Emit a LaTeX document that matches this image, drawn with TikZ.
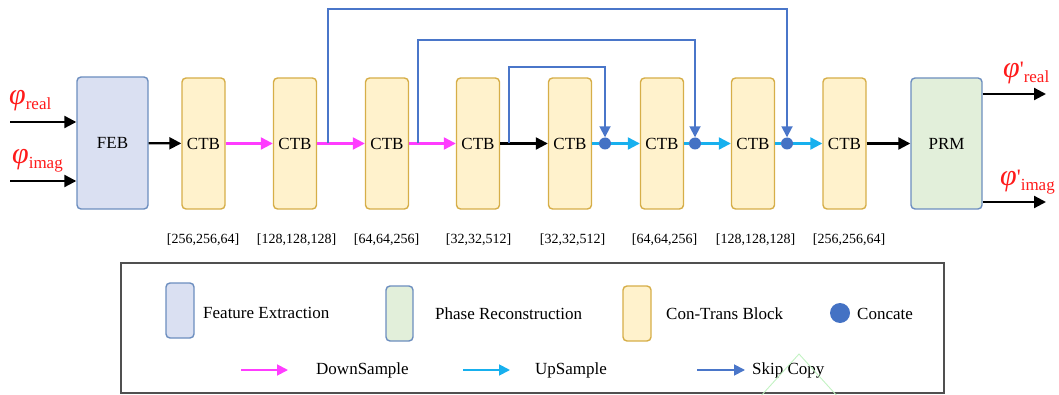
\documentclass[tikz,border=0pt]{standalone}
\usepackage{fontspec}
\setmainfont{Liberation Serif}
\usetikzlibrary{arrows.meta,calc}

\definecolor{febfill}{HTML}{DAE0F2}
\definecolor{prmfill}{HTML}{E2EFDA}
\definecolor{boxline}{HTML}{6C8EBF}
\definecolor{ctbfill}{HTML}{FFF2CC}
\definecolor{ctbline}{HTML}{D6AE48}
\definecolor{downc}{HTML}{FF3CFF}
\definecolor{upc}{HTML}{17B0EE}
\definecolor{skipc}{HTML}{4A76C9}
\definecolor{dotc}{HTML}{4472C4}
\definecolor{phic}{HTML}{FF1A1A}
\definecolor{framec}{HTML}{505050}
\definecolor{faintgreen}{HTML}{C2F2C2}

\tikzset{
  blk/.style={rounded corners=4pt, line width=1.4pt, inner sep=0pt,
    font=\fontsize{17}{20}\selectfont},
  febbox/.style={blk, draw=boxline, fill=febfill, minimum width=71pt, minimum height=132pt},
  prmbox/.style={blk, draw=boxline, fill=prmfill, minimum width=71pt, minimum height=131pt},
  ctbbox/.style={blk, draw=ctbline, fill=ctbfill, minimum width=43pt, minimum height=131pt},
  lgfe/.style={blk, draw=boxline, fill=febfill, minimum width=28pt, minimum height=55pt},
  lgpr/.style={blk, draw=boxline, fill=prmfill, minimum width=27pt, minimum height=55pt},
  lgctb/.style={blk, draw=ctbline, fill=ctbfill, minimum width=28pt, minimum height=55pt},
  dot/.style={circle, fill=dotc, minimum size=12pt, inner sep=0pt},
  bigdot/.style={circle, fill=dotc, minimum size=20pt, inner sep=0pt},
  dimlab/.style={font=\fontsize{14}{16}\selectfont, inner sep=0pt},
  lgtext/.style={font=\fontsize{17}{20}\selectfont, anchor=west, inner sep=0pt},
  phitext/.style={text=phic, inner sep=0pt},
  tip/.style={-{Triangle[length=12pt,width=12pt]}},
  smalltip/.style={-{Triangle[length=11pt,width=11pt]}},
  plain/.style={line width=2.2pt, black, tip},
  down/.style={line width=2.2pt, downc, tip},
  up/.style={line width=2.2pt, upc, tip},
  upline/.style={line width=2.2pt, upc},
  skip/.style={line width=1.8pt, skipc, smalltip},
}

\newcommand{\phisym}[2]{{\fontsize{30}{30}\selectfont\itshape φ}#1{\fontsize{17}{17}\selectfont\raisebox{-5pt}{#2}}}
\newcommand{\primemark}{{\fontsize{22}{22}\selectfont\raisebox{1pt}{\textquotesingle}}}

\begin{document}
\begin{tikzpicture}[x=1pt,y=-1pt]
\useasboundingbox (0,0) rectangle (1059,395);

% main blocks
\node[febbox] (feb) at (112.5,143) {FEB};
\node[ctbbox] (t1) at (203.5,143.5) {CTB};
\node[ctbbox] (t2) at (295,143.5) {CTB};
\node[ctbbox] (t3) at (387,143.5) {CTB};
\node[ctbbox] (t4) at (478,143.5) {CTB};
\node[ctbbox] (t5) at (570,143.5) {CTB};
\node[ctbbox] (t6) at (662,143.5) {CTB};
\node[ctbbox] (t7) at (753,143.5) {CTB};
\node[ctbbox] (t8) at (844.5,143.5) {CTB};
\node[prmbox] (prm) at (946.5,143.5) {PRM};

% concatenation points
\node[dot] (c1) at (605,143.5) {};
\node[dot] (c2) at (695,143.5) {};
\node[dot] (c3) at (787,143.5) {};

% feature sizes
\node[dimlab] (d1) at (203,240) {[256,256,64]};
\node[dimlab] (d2) at (296.5,240) {[128,128,128]};
\node[dimlab] (d3) at (386.5,240) {[64,64,256]};
\node[dimlab] (d4) at (478.5,240) {[32,32,512]};
\node[dimlab] (d5) at (572.5,240) {[32,32,512]};
\node[dimlab] (d6) at (664.5,240) {[64,64,256]};
\node[dimlab] (d7) at (755.5,240) {[128,128,128]};
\node[dimlab] (d8) at (849,240) {[256,256,64]};

% inputs
\coordinate (inr) at (10,122);
\coordinate (ini) at (10,181);
\draw[plain] (inr) -- (inr -| feb.west);
\draw[plain] (ini) -- (ini -| feb.west);
\node[phitext, anchor=base west] (lr) at (9,105) {\phisym{}{real}};
\node[phitext, anchor=base west] (li) at (12,164) {\phisym{}{imag}};

% outputs
\coordinate (outr) at (1046,94);
\coordinate (outi) at (1046,202);
\draw[plain] (outr -| prm.east) -- (outr);
\draw[plain] (outi -| prm.east) -- (outi);
\node[phitext, anchor=base west] (lor) at (1003,78) {\phisym{\primemark}{real}};
\node[phitext, anchor=base west] (loi) at (1000,186) {\phisym{\primemark}{imag}};

% encoder path
\draw[plain] (feb) -- (t1);
\draw[down] (t1) -- (t2);
\draw[down] (t2) -- (t3);
\draw[down] (t3) -- (t4);
\draw[plain] (t4) -- (t5);

% decoder path
\draw[upline] (t5) -- (c1);
\draw[up] (c1) -- (t6);
\draw[upline] (t6) -- (c2);
\draw[up] (c2) -- (t7);
\draw[upline] (t7) -- (c3);
\draw[up] (c3) -- (t8);
\draw[plain] (t8) -- (prm);

% skip connections
\coordinate (s1) at (328,143.5);
\coordinate (s2) at (418,143.5);
\coordinate (s3) at (509,143.5);
\draw[skip] (s1) -- (328,9) -| (c3);
\draw[skip] (s2) -- (418,40) -| (c2);
\draw[skip] (s3) -- (509,67) -| (c1);

% legend
\node[draw=framec, line width=1.5pt, minimum width=823pt, minimum height=130pt, inner sep=0pt] (legend) at (532.5,328) {};
\node[lgfe] (kfe) at (180,310.5) {};
\node[lgtext] (tfe) at (203,313) {Feature Extraction};
\node[lgpr] (kpr) at (399.5,313.5) {};
\node[lgtext] (tpr) at (435,314) {Phase Reconstruction};
\node[lgctb] (kctb) at (637,313.5) {};
\node[lgtext] (tctb) at (666,314) {Con-Trans Block};
\node[bigdot] (kdot) at (840,313) {};
\node[lgtext] (tdot) at (857,314) {Concate};

\coordinate (ad0) at (241,370); \coordinate (ad1) at (288,370);
\coordinate (au0) at (463,370); \coordinate (au1) at (510,370);
\coordinate (as0) at (697,370); \coordinate (as1) at (745,370);
\draw[line width=1.8pt, downc, smalltip] (ad0) -- (ad1);
\draw[line width=1.8pt, upc, smalltip] (au0) -- (au1);
\draw[line width=1.8pt, skipc, smalltip] (as0) -- (as1);
\node[lgtext] (tdown) at (316,370) {DownSample};
\node[lgtext] (tup) at (535,370) {UpSample};
\node[lgtext] (tskip) at (752,370) {Skip Copy};

% faint stray outline near the legend's bottom edge
\draw[faintgreen, line width=0.9pt] (760,397) -- (799,354) -- (838,397);
\end{tikzpicture}
\end{document}
